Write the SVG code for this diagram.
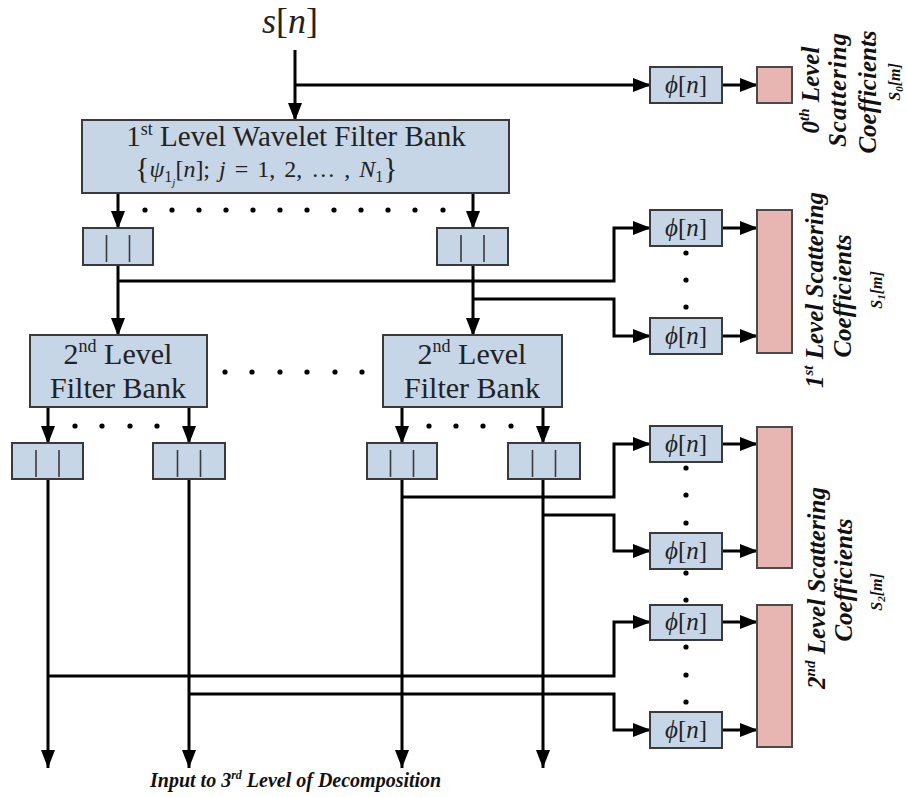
<svg xmlns="http://www.w3.org/2000/svg" width="907" height="797" viewBox="0 0 907 797">
<style>
.box{fill:#c7d6e7;stroke:#3a3a3a;stroke-width:2}
.pink{fill:#e8b6b2;stroke:#4a4a4a;stroke-width:2}
.bar{stroke:#3a3a3a;stroke-width:1.6}
.w{fill:none;stroke:#000;stroke-width:3}
.a{marker-end:url(#ah)}
.dot{fill:#000}
.t{font-family:"Liberation Serif","Times New Roman",serif;fill:#222}
.m{font-family:"Liberation Serif","Times New Roman",serif;font-style:italic;fill:#222}
.r{font-family:"Liberation Serif","Times New Roman",serif;font-style:italic;font-weight:bold;fill:#111}
</style>
<defs>
<marker id="ah" markerUnits="userSpaceOnUse" markerWidth="20" markerHeight="16" refX="18" refY="7" orient="auto">
<path d="M0,0 L18,7 L0,14 Z" fill="#000"/>
</marker>
</defs>

<text class="m" x="290" y="33" font-size="36" text-anchor="middle">s<tspan font-style="normal">[</tspan>n<tspan font-style="normal">]</tspan></text>

<g id="connectors">
<path class="w a" d="M295,50 V121"/>
<path class="w a" d="M295,85 H651"/>
<path class="w a" d="M722,85 H758"/>
<path class="w a" d="M118,193 V229"/>
<path class="w a" d="M473,193 V229"/>
<path class="w a" d="M118,265 V336"/>
<path class="w a" d="M473,265 V336"/>
<path class="w a" d="M118,281 H614 V228 H651"/>
<path class="w a" d="M473,299 H614 V336 H651"/>
<path class="w a" d="M722,228 H758"/>
<path class="w a" d="M722,336 H758"/>
<path class="w a" d="M48,407 V444"/>
<path class="w a" d="M189,407 V444"/>
<path class="w a" d="M402,407 V444"/>
<path class="w a" d="M543,407 V444"/>
<path class="w a" d="M48,479 V768"/>
<path class="w a" d="M189,479 V768"/>
<path class="w a" d="M402,479 V768"/>
<path class="w a" d="M543,479 V768"/>
<path class="w a" d="M402,497 H614 V444 H651"/>
<path class="w a" d="M543,515 H614 V551 H651"/>
<path class="w a" d="M48,676 H614 V622 H651"/>
<path class="w a" d="M189,694 H614 V730 H651"/>
<path class="w a" d="M722,444 H758"/>
<path class="w a" d="M722,551 H758"/>
<path class="w a" d="M722,622 H758"/>
<path class="w a" d="M722,730 H758"/>
</g>

<g id="fb1">
<rect class="box" x="82" y="120" width="427" height="73"/>
<text class="t" x="296" y="146" font-size="29" text-anchor="middle">1<tspan font-size="18" dy="-11">st</tspan><tspan dy="11"> Level Wavelet Filter Bank</tspan></text>
<text class="m" x="135" y="177" font-size="24" word-spacing="3"><tspan font-style="normal" font-size="30" dy="1">{</tspan><tspan dy="-1">ψ</tspan><tspan font-style="normal" font-size="16" dy="5">1</tspan><tspan font-size="11" dy="4">j</tspan><tspan font-style="normal" dy="-9">[</tspan>n<tspan font-style="normal">];  </tspan>j<tspan font-style="normal"> = 1, 2, … , </tspan>N<tspan font-style="normal" font-size="16" dy="5">1</tspan><tspan font-style="normal" font-size="30" dy="-4">}</tspan></text>
</g>

<g id="dots" class="dot">
<circle cx="145" cy="210" r="2.6"/><circle cx="172" cy="210" r="2.6"/><circle cx="199" cy="210" r="2.6"/><circle cx="226" cy="210" r="2.6"/><circle cx="253" cy="210" r="2.6"/><circle cx="280" cy="210" r="2.6"/><circle cx="307" cy="210" r="2.6"/><circle cx="334" cy="210" r="2.6"/><circle cx="361" cy="210" r="2.6"/><circle cx="388" cy="210" r="2.6"/><circle cx="415" cy="210" r="2.6"/><circle cx="443" cy="210" r="2.6"/>
<circle cx="225" cy="372" r="2.6"/><circle cx="252" cy="372" r="2.6"/><circle cx="280" cy="372" r="2.6"/><circle cx="307" cy="372" r="2.6"/><circle cx="335" cy="372" r="2.6"/><circle cx="362" cy="372" r="2.6"/>
<circle cx="75" cy="426" r="2.6"/><circle cx="102" cy="426" r="2.6"/><circle cx="130" cy="426" r="2.6"/><circle cx="157" cy="426" r="2.6"/>
<circle cx="429" cy="426" r="2.6"/><circle cx="456" cy="426" r="2.6"/><circle cx="483" cy="426" r="2.6"/><circle cx="511" cy="426" r="2.6"/>
<circle cx="686" cy="253" r="2.6"/><circle cx="686" cy="280" r="2.6"/><circle cx="686" cy="307" r="2.6"/>
<circle cx="686" cy="468" r="2.6"/><circle cx="686" cy="495" r="2.6"/><circle cx="686" cy="523" r="2.6"/>
<circle cx="686" cy="573" r="2.6"/><circle cx="686" cy="600" r="2.6"/>
<circle cx="686" cy="647" r="2.6"/><circle cx="686" cy="675" r="2.6"/><circle cx="686" cy="702" r="2.6"/>
</g>

<g id="abs1a"><rect class="box" x="83" y="228" width="70" height="37"/><path class="bar" d="M106.5,235 V262 M129.5,235 V262"/></g>
<g id="abs1b"><rect class="box" x="437" y="228" width="71" height="37"/><path class="bar" d="M461,235 V262 M484,235 V262"/></g>

<g id="fb2a">
<rect class="box" x="30" y="335" width="177" height="72"/>
<text class="t" x="118" y="364" font-size="30" text-anchor="middle">2<tspan font-size="18" dy="-12">nd</tspan><tspan dy="12"> Level</tspan></text>
<text class="t" x="118" y="398" font-size="30" text-anchor="middle">Filter Bank</text>
</g>
<g id="fb2b">
<rect class="box" x="383" y="335" width="179" height="72"/>
<text class="t" x="472" y="364" font-size="30" text-anchor="middle">2<tspan font-size="18" dy="-12">nd</tspan><tspan dy="12"> Level</tspan></text>
<text class="t" x="472" y="398" font-size="30" text-anchor="middle">Filter Bank</text>
</g>

<g id="abs2a"><rect class="box" x="12" y="443" width="71" height="36"/><path class="bar" d="M36,450 V477 M59,450 V477"/></g>
<g id="abs2b"><rect class="box" x="153" y="443" width="72" height="36"/><path class="bar" d="M177.5,450 V477 M200.5,450 V477"/></g>
<g id="abs2c"><rect class="box" x="367" y="443" width="70" height="36"/><path class="bar" d="M390.5,450 V477 M413.5,450 V477"/></g>
<g id="abs2d"><rect class="box" x="508" y="443" width="72" height="36"/><path class="bar" d="M532.5,450 V477 M555.5,450 V477"/></g>

<g id="phi0"><rect class="box" x="650" y="67" width="72" height="36"/><text class="m" x="686" y="93" font-size="25" text-anchor="middle">ϕ<tspan font-style="normal">[</tspan>n<tspan font-style="normal">]</tspan></text></g>
<g id="phi1a"><rect class="box" x="650" y="210" width="72" height="36"/><text class="m" x="686" y="236" font-size="25" text-anchor="middle">ϕ<tspan font-style="normal">[</tspan>n<tspan font-style="normal">]</tspan></text></g>
<g id="phi1b"><rect class="box" x="650" y="318" width="72" height="36"/><text class="m" x="686" y="344" font-size="25" text-anchor="middle">ϕ<tspan font-style="normal">[</tspan>n<tspan font-style="normal">]</tspan></text></g>
<g id="phi2a"><rect class="box" x="650" y="426" width="72" height="36"/><text class="m" x="686" y="452" font-size="25" text-anchor="middle">ϕ<tspan font-style="normal">[</tspan>n<tspan font-style="normal">]</tspan></text></g>
<g id="phi2b"><rect class="box" x="650" y="533" width="72" height="36"/><text class="m" x="686" y="559" font-size="25" text-anchor="middle">ϕ<tspan font-style="normal">[</tspan>n<tspan font-style="normal">]</tspan></text></g>
<g id="phi2c"><rect class="box" x="650" y="605" width="72" height="35"/><text class="m" x="686" y="630" font-size="25" text-anchor="middle">ϕ<tspan font-style="normal">[</tspan>n<tspan font-style="normal">]</tspan></text></g>
<g id="phi2d"><rect class="box" x="650" y="712" width="72" height="36"/><text class="m" x="686" y="738" font-size="25" text-anchor="middle">ϕ<tspan font-style="normal">[</tspan>n<tspan font-style="normal">]</tspan></text></g>

<g id="s0"><rect class="pink" x="757" y="67" width="35" height="36"/></g>
<g id="s1"><rect class="pink" x="757" y="210" width="35" height="143"/></g>
<g id="s2a"><rect class="pink" x="757" y="427" width="35" height="141"/></g>
<g id="s2b"><rect class="pink" x="757" y="605" width="35" height="142"/></g>

<g id="label0">
<text class="r" transform="translate(819,90) rotate(-90)" font-size="25" text-anchor="middle">0<tspan font-size="15" dy="-10">th</tspan><tspan dy="10"> Level</tspan></text>
<text class="r" transform="translate(846,90) rotate(-90)" font-size="25" text-anchor="middle" textLength="114">Scattering</text>
<text class="r" transform="translate(876,92) rotate(-90)" font-size="25" text-anchor="middle">Coefficients</text>
<text class="r" transform="translate(900,82) rotate(-90)" font-size="16" text-anchor="middle">S<tspan font-size="11" dy="3">0</tspan><tspan dy="-3">[m]</tspan></text>
</g>
<g id="label1">
<text class="r" transform="translate(823,290) rotate(-90)" font-size="25" text-anchor="middle">1<tspan font-size="15" dy="-10">st</tspan><tspan dy="10"> Level Scattering</tspan></text>
<text class="r" transform="translate(851,296) rotate(-90)" font-size="25" text-anchor="middle">Coefficients</text>
<text class="r" transform="translate(882,290) rotate(-90)" font-size="16" text-anchor="middle">S<tspan font-size="11" dy="3">1</tspan><tspan dy="-3">[m]</tspan></text>
</g>
<g id="label2">
<text class="r" transform="translate(825,588) rotate(-90)" font-size="25" text-anchor="middle">2<tspan font-size="15" dy="-10">nd</tspan><tspan dy="10"> Level Scattering</tspan></text>
<text class="r" transform="translate(852,580) rotate(-90)" font-size="25" text-anchor="middle">Coefficients</text>
<text class="r" transform="translate(882,592) rotate(-90)" font-size="16" text-anchor="middle">S<tspan font-size="11" dy="3">2</tspan><tspan dy="-3">[m]</tspan></text>
</g>

<text class="r" x="150" y="787" font-size="20">Input to 3<tspan font-size="12" dy="-8">rd</tspan><tspan dy="8"> Level of Decomposition</tspan></text>
</svg>
